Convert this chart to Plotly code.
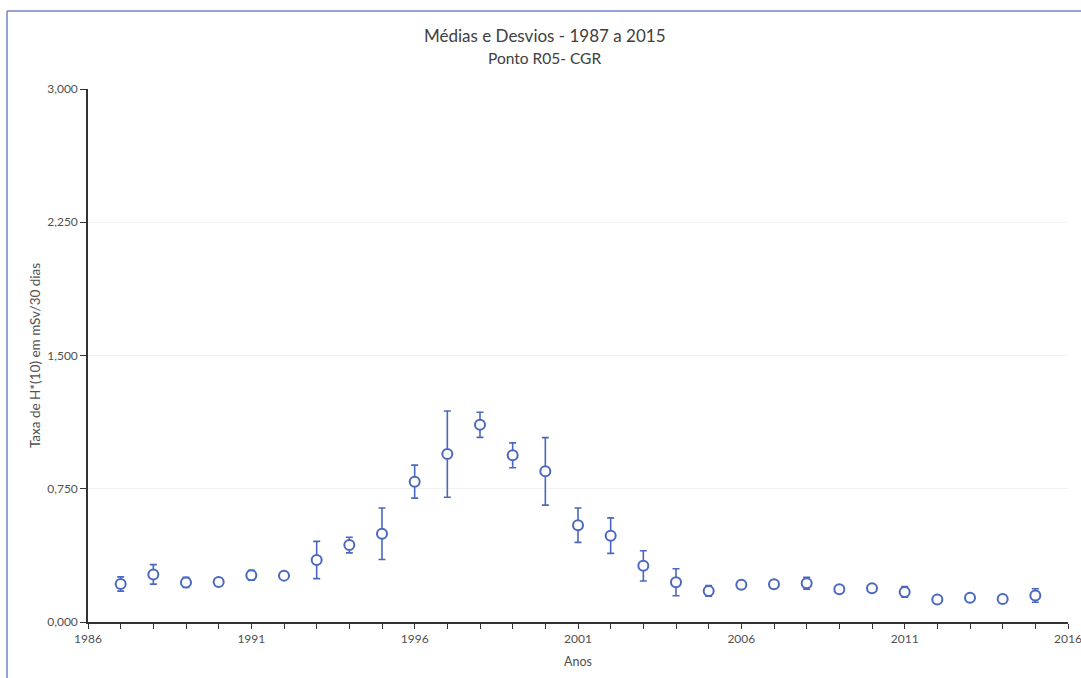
import plotly.graph_objects as go

# Annual mean dose rate and standard deviation, point R05 - CGR
anos = [1987, 1988, 1989, 1990, 1991, 1992, 1993, 1994, 1995, 1996,
        1997, 1998, 1999, 2000, 2001, 2002, 2003, 2004, 2005, 2006,
        2007, 2008, 2009, 2010, 2011, 2012, 2013, 2014, 2015]
medias = [0.214, 0.268, 0.223, 0.225, 0.263, 0.261, 0.349, 0.433, 0.497, 0.790,
          0.945, 1.110, 0.938, 0.848, 0.545, 0.486, 0.316, 0.224, 0.175, 0.210,
          0.212, 0.218, 0.184, 0.190, 0.169, 0.126, 0.136, 0.129, 0.149]
desvios = [0.040, 0.055, 0.028, 0.020, 0.028, 0.015, 0.105, 0.044, 0.145, 0.093,
           0.243, 0.071, 0.070, 0.190, 0.097, 0.100, 0.085, 0.076, 0.030, 0.015,
           0.015, 0.033, 0.015, 0.015, 0.030, 0.010, 0.010, 0.010, 0.038]

azul = "#4a68c0"
fonte = "Lato, 'Open Sans', sans-serif"
cinza = "#505050"

fig = go.Figure()
fig.add_trace(go.Scatter(
    x=anos, y=medias, mode="markers",
    marker=dict(symbol="circle", size=10, color="white", line=dict(width=2, color=azul)),
    error_y=dict(type="data", array=desvios, visible=True, color=azul, thickness=1.6, width=3.5),
    showlegend=False,
))

fig.update_layout(
    width=1081, height=678,
    margin=dict(l=88, r=13, t=89, b=56),
    paper_bgcolor="white", plot_bgcolor="white",
    separators=",.",
    font=dict(family=fonte, color=cinza),
    xaxis=dict(
        range=[1986, 2016], tick0=1986, dtick=5, ticks="outside", ticklen=5, tickwidth=1,
        tickcolor="#333", showline=True, linecolor="#333", linewidth=1.5,
        showgrid=False, zeroline=False, automargin=False, ticklabeloverflow="allow",
        tickfont=dict(size=12, color=cinza),
        minor=dict(dtick=1, tick0=1986, ticks="outside", ticklen=5, tickcolor="#333", showgrid=False),
        title=dict(text="Anos", font=dict(size=12.5, color=cinza), standoff=12),
    ),
    yaxis=dict(
        range=[0, 3.0], tick0=0, dtick=0.75, tickformat=".3f", ticks="outside", ticklen=6,
        tickcolor="#333", showline=True, linecolor="#333", linewidth=1.5,
        showgrid=True, gridcolor="#f2f2f2", gridwidth=1, zeroline=False, automargin=False,
        tickfont=dict(size=12, color=cinza),
        title=dict(text="Taxa de H*(10) em mSv/30 dias", font=dict(size=13.5, color=cinza), standoff=4),
    ),
    annotations=[
        dict(text="Médias e Desvios - 1987 a 2015", xref="paper", yref="paper",
             x=0.466, y=1 + (89 - 35) / 533, showarrow=False, yanchor="middle",
             font=dict(size=17, color="#404040", family=fonte)),
        dict(text="Ponto R05- CGR", xref="paper", yref="paper",
             x=0.466, y=1 + (89 - 58) / 533, showarrow=False, yanchor="middle",
             font=dict(size=15.5, color="#404040", family=fonte)),
    ],
    shapes=[
        # blue frame around the chart area (left and top edges)
        dict(type="line", xref="paper", yref="paper",
             x0=(7 - 88) / 980, x1=(7 - 88) / 980, y0=(622 - 678) / 533, y1=(622 - 11) / 533,
             line=dict(color="#6f86cf", width=1.5)),
        dict(type="line", xref="paper", yref="paper",
             x0=(7 - 88) / 980, x1=(1081 - 88) / 980, y0=(622 - 11) / 533, y1=(622 - 11) / 533,
             line=dict(color="#6f86cf", width=1.5)),
    ],
)

fig.write_html("out.html")
